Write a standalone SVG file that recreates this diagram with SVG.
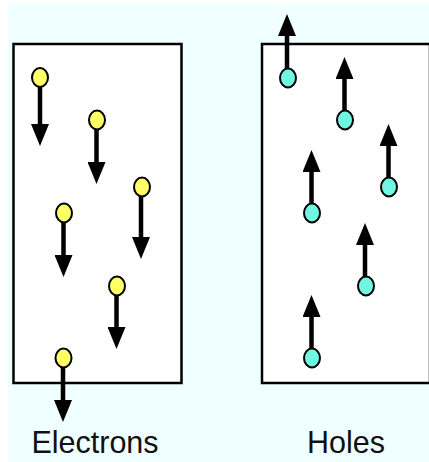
<svg xmlns="http://www.w3.org/2000/svg" width="429" height="462" viewBox="0 0 429 462">
  <style>
    .box { fill: #FFFFFF; stroke: #000000; stroke-width: 2.5; }
    .e { fill: #FFFF66; stroke: #000000; stroke-width: 2; }
    .h { fill: #70F7E2; stroke: #000000; stroke-width: 2; }
    .shaft { stroke: #000000; stroke-width: 4.5; fill: none; marker-end: url(#head); }
    .label { font-family: "Liberation Sans", Arial, sans-serif; font-size: 30.5px; fill: #111111; text-anchor: middle; }
  </style>
  <defs>
    <marker id="head" viewBox="0 0 22 18" refX="0" refY="9" markerWidth="22" markerHeight="18" orient="auto" markerUnits="userSpaceOnUse">
      <path d="M0,0 L22,9 L0,18 Z" fill="#000000"/>
    </marker>
  </defs>
  <rect x="8" y="4" width="421" height="458" fill="#F0FFFF"/>
  <g id="electron-region">
    <rect class="box" x="13.5" y="44" width="168" height="339"/>
  </g>
  <g id="hole-region">
    <rect class="box" x="262" y="44" width="168" height="339"/>
  </g>
  <g id="connectors">
    <line class="shaft" x1="40" y1="86" x2="40" y2="124"/>
    <line class="shaft" x1="96.5" y1="129" x2="96.5" y2="162"/>
    <line class="shaft" x1="141" y1="196" x2="141" y2="237"/>
    <line class="shaft" x1="63.5" y1="222" x2="63.5" y2="255"/>
    <line class="shaft" x1="116.5" y1="295" x2="116.5" y2="327"/>
    <line class="shaft" x1="63" y1="367" x2="63" y2="400"/>
    <line class="shaft" x1="287" y1="69" x2="287" y2="36"/>
    <line class="shaft" x1="344.5" y1="111" x2="344.5" y2="79"/>
    <line class="shaft" x1="388.5" y1="178" x2="388.5" y2="146"/>
    <line class="shaft" x1="311.5" y1="204" x2="311.5" y2="172"/>
    <line class="shaft" x1="365" y1="277" x2="365" y2="245"/>
    <line class="shaft" x1="311.5" y1="349" x2="311.5" y2="317"/>
  </g>
  <g id="e1"><ellipse class="e" cx="40" cy="77.5" rx="8" ry="9.5"/></g>
  <g id="e2"><ellipse class="e" cx="97" cy="120" rx="8" ry="9.5"/></g>
  <g id="e3"><ellipse class="e" cx="142" cy="187" rx="8" ry="9.5"/></g>
  <g id="e4"><ellipse class="e" cx="64" cy="213" rx="8" ry="9.5"/></g>
  <g id="e5"><ellipse class="e" cx="117" cy="286" rx="8" ry="9.5"/></g>
  <g id="e6"><ellipse class="e" cx="63.5" cy="358" rx="8" ry="9.5"/></g>
  <g id="h1"><ellipse class="h" cx="288" cy="78" rx="8" ry="9.5"/></g>
  <g id="h2"><ellipse class="h" cx="345" cy="120" rx="8" ry="9.5"/></g>
  <g id="h3"><ellipse class="h" cx="389" cy="187" rx="8" ry="9.5"/></g>
  <g id="h4"><ellipse class="h" cx="312" cy="213" rx="8" ry="9.5"/></g>
  <g id="h5"><ellipse class="h" cx="366" cy="286" rx="8" ry="9.5"/></g>
  <g id="h6"><ellipse class="h" cx="312" cy="358" rx="8" ry="9.5"/></g>
  <g id="labels">
    <text class="label" x="95" y="452.5">Electrons</text>
    <text class="label" x="346" y="452.5">Holes</text>
  </g>
</svg>
